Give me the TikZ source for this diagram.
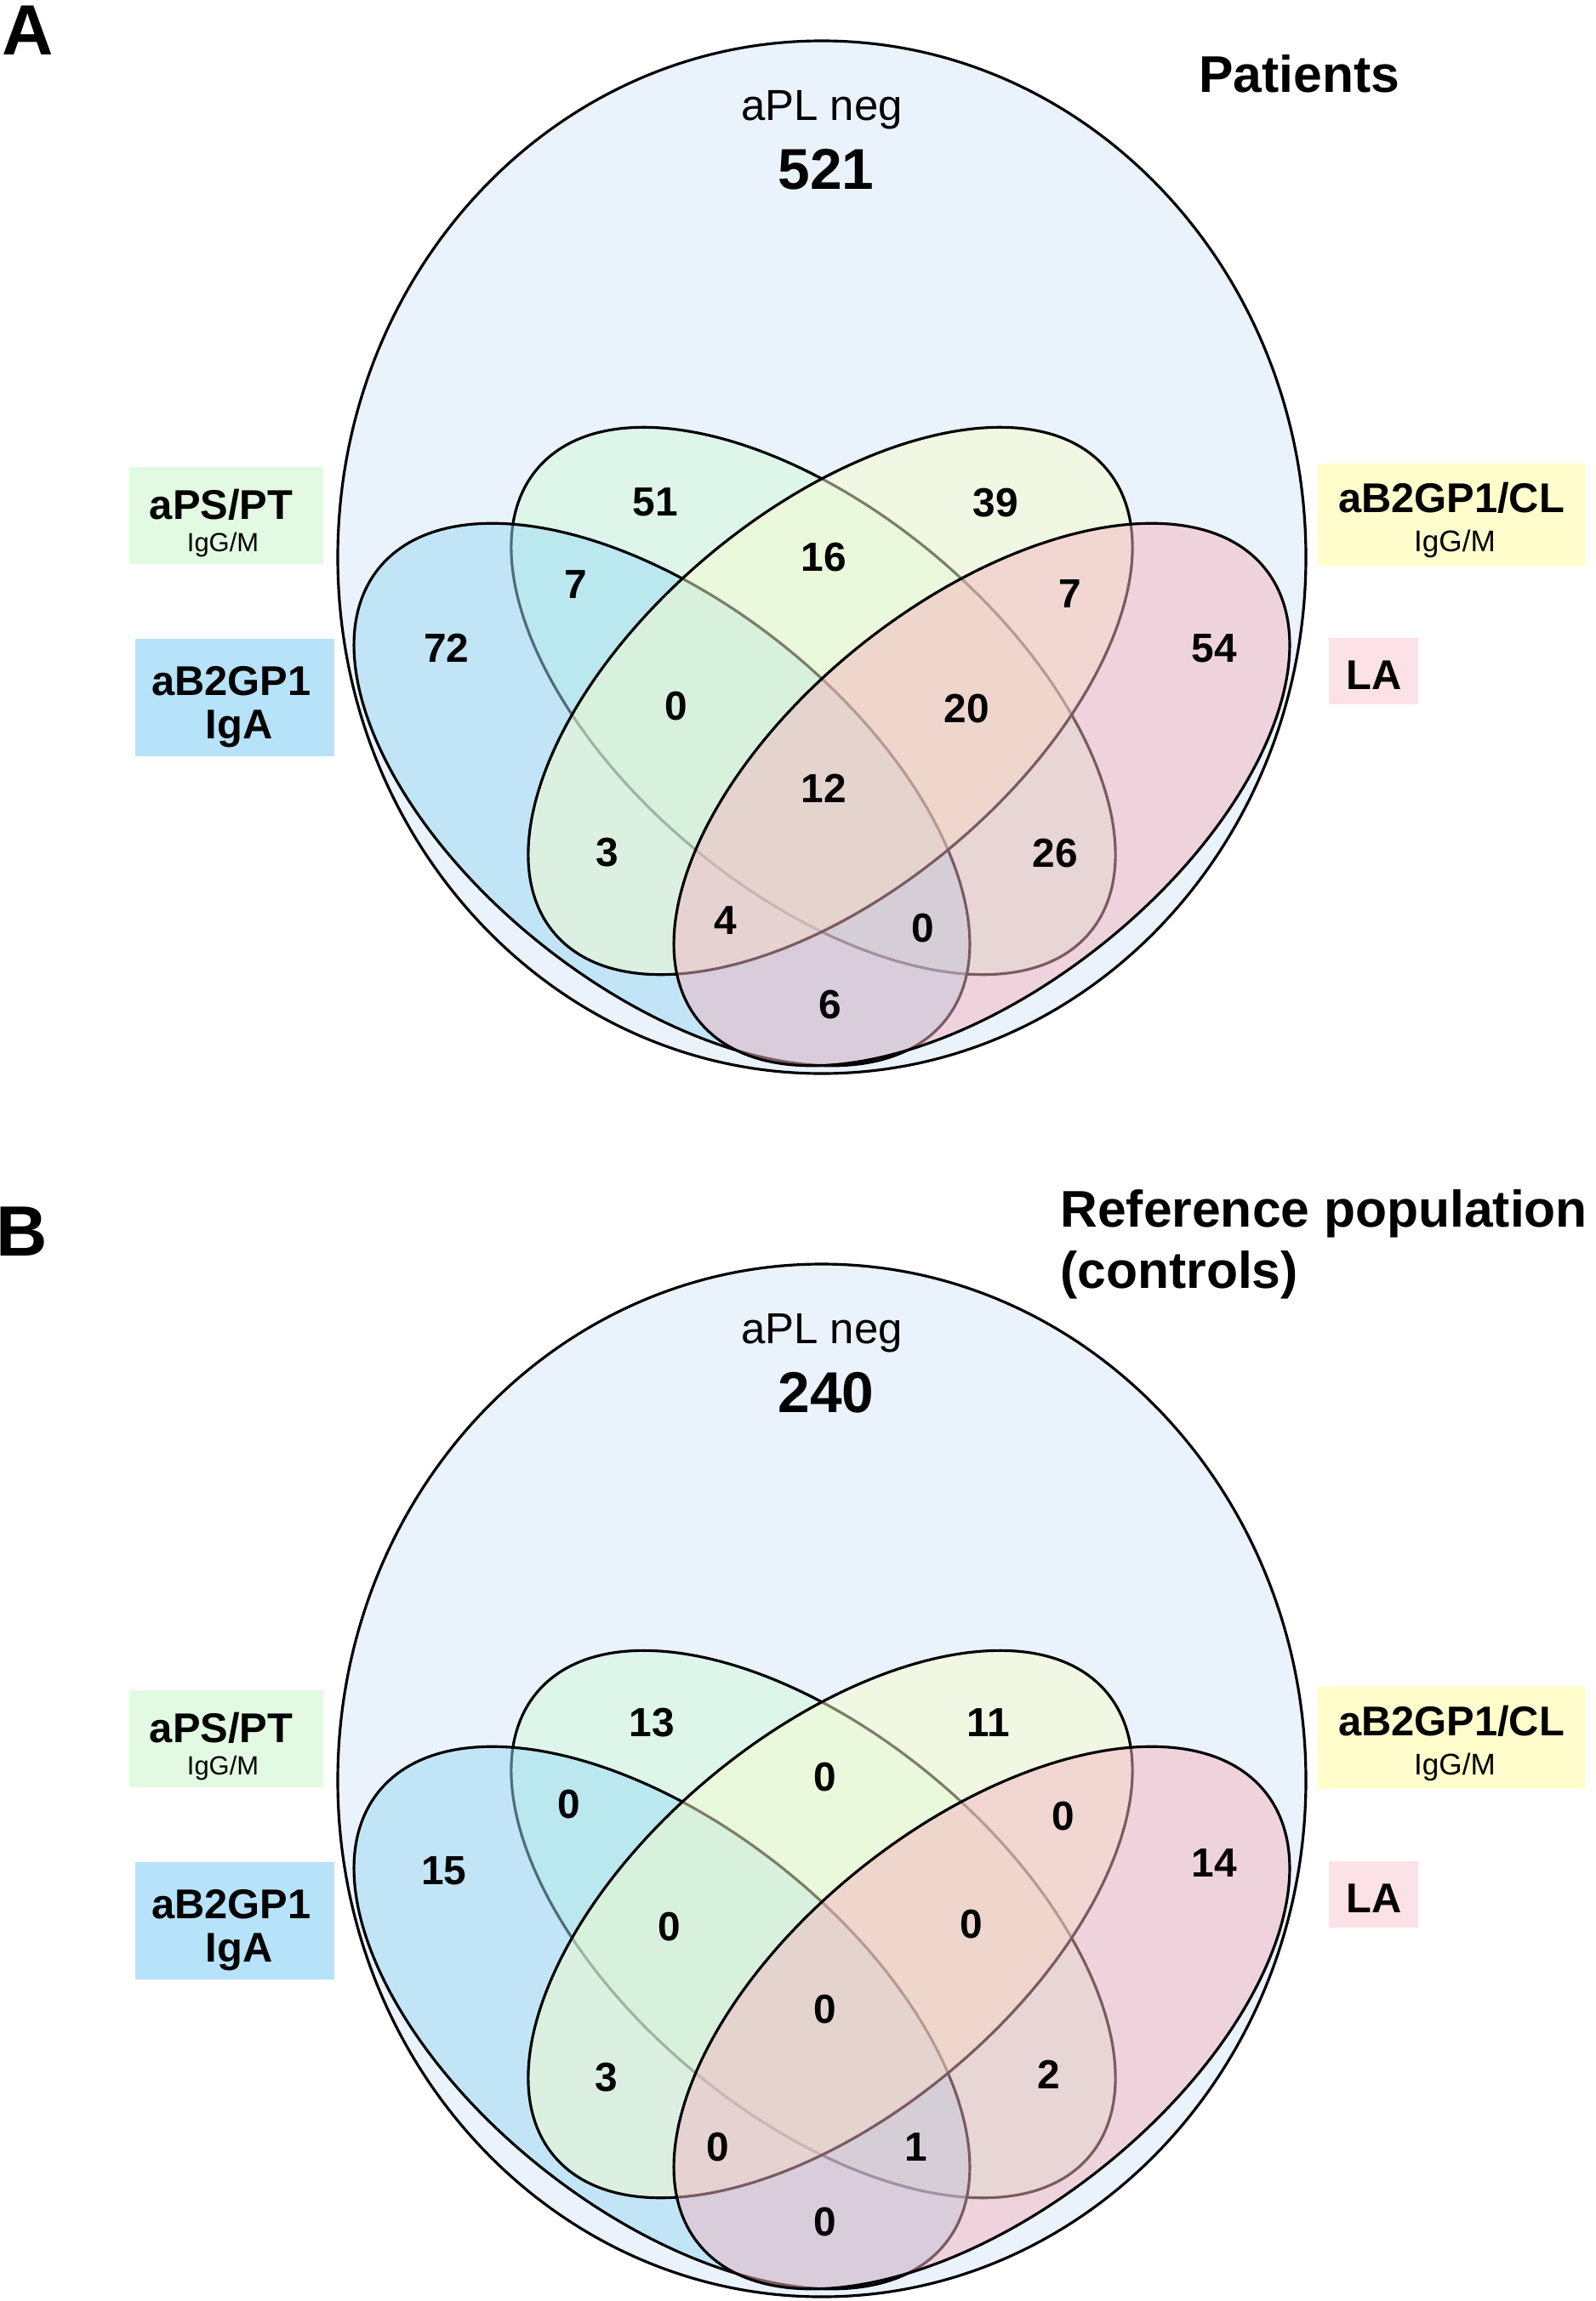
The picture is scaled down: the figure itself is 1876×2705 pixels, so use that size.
\documentclass[tikz,border=0pt]{standalone}
\usepackage{fontspec}
\setmainfont{Liberation Sans}
\usepackage{tikz}
\usetikzlibrary{positioning}

\definecolor{outerblue}{RGB}{234,242,251}
\definecolor{setblue}{RGB}{154,218,245}
\definecolor{setgreen}{RGB}{212,248,219}
\definecolor{setyellow}{RGB}{246,252,205}
\definecolor{setpink}{RGB}{242,182,193}
\definecolor{tagblue}{RGB}{182,227,250}
\definecolor{taggreen}{RGB}{226,250,226}
\definecolor{tagyellow}{RGB}{255,253,204}
\definecolor{tagpink}{RGB}{252,226,230}

\begin{document}
\begin{tikzpicture}[
    x=0.02cm, y=-0.02cm,
    outer set/.style={draw=black, line width=1.8pt, fill=outerblue},
    venn set/.style={draw=black, line width=1.8pt, fill opacity=0.5},
    count/.style={inner sep=0pt, font=\fontsize{27.2}{30}\selectfont\bfseries},
    tagbox/.style={inner sep=0pt, draw=none},
    tagname/.style={inner sep=0pt, anchor=base,
        font=\fontsize{27.8}{30}\selectfont\bfseries},
    tagsub/.style={inner sep=0pt, anchor=base, font=\fontsize{17.6}{20}\selectfont},
    heading/.style={inner sep=0pt, anchor=base west, align=left,
        font=\fontsize{34.5}{40.8}\selectfont\bfseries},
    panel/.style={inner sep=0pt, anchor=base west,
        font=\fontsize{47.6}{50}\selectfont\bfseries}
    ]
    \useasboundingbox (0,0) rectangle (1876,2705);

    % both panels use one layout, B sits 1438 lower
    \foreach \dy/\p/\total in {0/a/521,1438/b/240}{
        \begin{scope}[shift={(0,\dy)}]
        \draw[outer set] (966,655) ellipse [x radius=569, y radius=607];
        \draw[venn set, fill=setgreen, shift={(956,824)}, rotate=-40]
            (0,0) ellipse [x radius=424, y radius=223];
        \draw[venn set, fill=setblue, shift={(778,934)}, rotate=-38.5]
            (0,0) ellipse [x radius=426, y radius=226];
        \draw[venn set, fill=setyellow, shift={(976,824)}, rotate=40]
            (0,0) ellipse [x radius=424, y radius=223];
        \draw[venn set, fill=setpink, shift={(1154,934)}, rotate=38.5]
            (0,0) ellipse [x radius=426, y radius=226];

        \node[inner sep=0pt, anchor=base, font=\fontsize{29}{32}\selectfont]
            (neg-\p) at (966,141) {aPL neg};
        \node[inner sep=0pt, anchor=base, font=\fontsize{38.5}{40}\selectfont\bfseries]
            (total-\p) at (971,222) {\total};

        % set labels
        \node[tagbox, fill=taggreen, minimum width=4.56cm, minimum height=2.28cm]
            (aps-\p) at (266,606) {};
        \node[tagname] (aps-name-\p) at (260,610) {aPS/PT};
        \node[tagsub] (aps-ig-\p) at (262,648) {IgG/M};

        \node[tagbox, fill=tagblue, minimum width=4.68cm, minimum height=2.76cm]
            (iga-\p) at (276,820) {};
        \node[tagname] (iga-name-\p) at (272,817) {aB2GP1};
        \node[tagname] (iga-ig-\p) at (281,868) {IgA};

        \node[tagbox, fill=tagyellow, minimum width=6.28cm, minimum height=2.4cm]
            (cl-\p) at (1706,605) {};
        \node[tagname] (cl-name-\p) at (1706,602) {aB2GP1/CL};
        \node[tagsub, font=\fontsize{20}{22}\selectfont] (cl-ig-\p) at (1710,648) {IgG/M};

        \node[tagbox, fill=tagpink, minimum width=2.1cm, minimum height=1.56cm]
            (la-\p) at (1614,789) {};
        \node[tagname] (la-name-\p) at (1615,810) {LA};
        \end{scope}
    }

    % region counts, patients
    \foreach \x/\y/\n [count=\i] in {770/590/51, 1170/591/39, 677/687/7,
        968/655/16, 1258/698/7, 525/762/72, 1427/762/54, 795/830/0,
        1136/833/20, 968/927/12, 714/1002/3, 1240/1003/26, 853/1082/4,
        1085/1091/0, 976/1181/6}
        \node[count] (pa\i) at (\x,\y) {\n};

    % region counts, controls
    \foreach \x/\y/\n [count=\i] in {766/2025/13, 1162/2025/11, 669/2121/0,
        970/2089/0, 1250/2135/0, 522/2199/15, 1427/2190/14, 787/2265/0,
        1142/2262/0, 970/2362/0, 713/2442/3, 1233/2439/2, 844/2524/0,
        1077/2524/1, 970/2612/0}
        \node[count] (co\i) at (\x,\y) {\n};

    \node[panel] (panel-a) at (2,64) {A};
    \node[panel] (panel-b) at (-5,1476) {B};
    \node[heading] (head-a) at (1409,108) {Patients};
    \node[heading] (head-b) at (1246,1514) {Reference population\\(controls)};

\end{tikzpicture}
\end{document}
